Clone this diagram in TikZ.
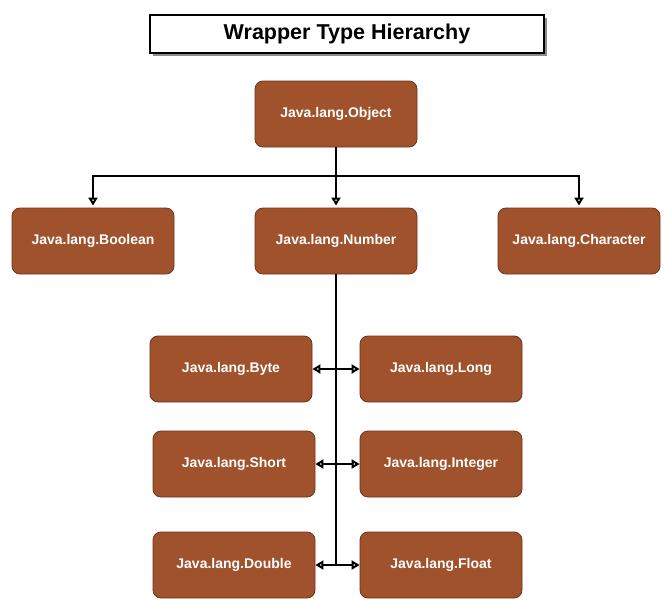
\documentclass[tikz,border=0pt]{standalone}
\usepackage{fontspec}
\setmainfont{Liberation Sans}
\usepackage{tikz}
\usetikzlibrary{arrows.meta, positioning, calc, shadows}
\definecolor{brick}{HTML}{A0522D}
\definecolor{brickline}{HTML}{6E3418}
\tikzset{
>={Triangle[open,length=8pt,width=9pt]},
link/.style={draw=black, line width=2.8pt},
box/.style={%
    rectangle,
    minimum width=162pt,
    minimum height=66pt,
    rounded corners=8pt,
    fill=brick,
    draw=brickline,
    line width=0.8pt,
    text=white,
    % Font
    font=\bfseries\fontsize{14}{16}\selectfont
},
titlebox/.style={%
    rectangle,
    minimum width=394pt,
    minimum height=38pt,
    fill=white,
    draw=black,
    line width=1.2pt,
    drop shadow={shadow xshift=2.5pt,shadow yshift=-2.5pt,fill=black!45,opacity=1},
    font=\bfseries\fontsize{21.5}{24}\selectfont
},
}

\begin{document}
\begin{tikzpicture}[x=1pt,y=-1pt]
	\useasboundingbox (0,0) rectangle (670,613);

	\node[titlebox] at (347,34) (title) {Wrapper Type Hierarchy};

	\node[box] at (336,114) (object) {Java.lang.Object};

	\node[box] at (93,241) (boolean) {Java.lang.Boolean};
	\node[box] at (336,241) (number) {Java.lang.Number};
	\node[box] at (579,241) (character) {Java.lang.Character};

	\node[box] at (231,369) (byte) {Java.lang.Byte};
	\node[box] at (441,369) (long) {Java.lang.Long};
	\node[box] at (234,464) (short) {Java.lang.Short};
	\node[box] at (441,464) (integer) {Java.lang.Integer};
	\node[box] at (234,565) (double) {Java.lang.Double};
	\node[box] at (441,565) (float) {Java.lang.Float};

	\coordinate (split) at (336,176);
	\coordinate (trunkend) at (336,565);

	\path[link] (object) -- (split);
	\path[link, ->, shorten >=2pt] (split) -| (boolean);
	\path[link, ->, shorten >=2pt] (split) -- (number);
	\path[link, ->, shorten >=2pt] (split) -| (character);

	\path[link] (number) -- (trunkend);
	\path[link, <->] (byte) -- (long);
	\path[link, <->] (short) -- (integer);
	\path[link, <->] (double) -- (float);
\end{tikzpicture}
\end{document}
